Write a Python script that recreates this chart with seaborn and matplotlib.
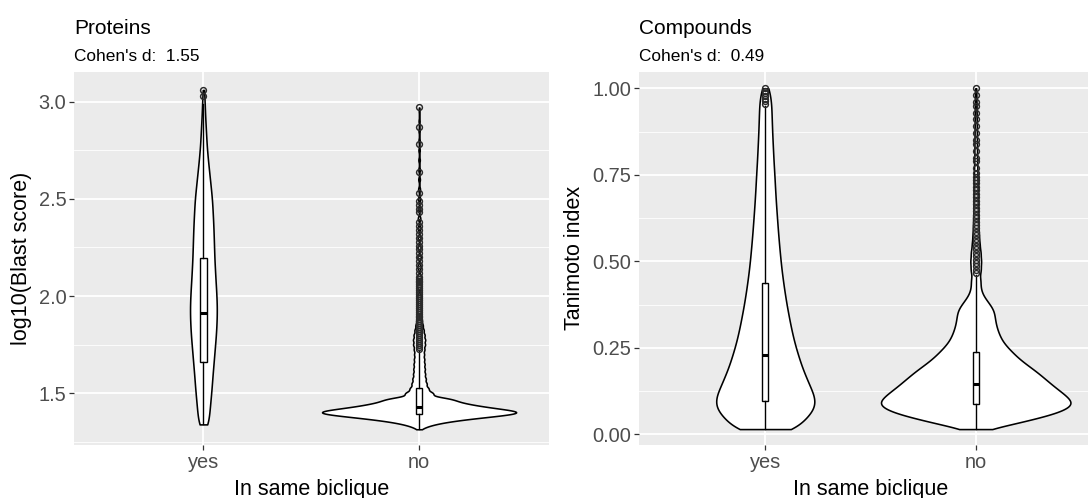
import numpy as np
import pandas as pd
import matplotlib
matplotlib.use("Agg")
import matplotlib.pyplot as plt
import seaborn as sns

# ---------------- data ----------------
categories = ["yes", "no"]

# Proteins panel: violin outline (half width, px) at sampled log10(Blast score) levels
prot_yes_levels = [1.34, 1.39, 1.44, 1.49, 1.54, 1.59, 1.64, 1.69, 1.74, 1.79, 1.84, 1.89,
                   1.94, 1.99, 2.04, 2.09, 2.14, 2.19, 2.24, 2.29, 2.34, 2.39, 2.44, 2.49,
                   2.54, 2.59, 2.64, 2.69, 2.74, 2.79, 2.84, 2.89, 2.94, 2.99, 3.04, 3.06]
prot_yes_density = [4.4, 5.8, 6.6, 7.5, 8.3, 9.0, 9.8, 10.6, 11.4, 12.2, 12.8, 13.2,
                    13.3, 13.0, 12.5, 11.9, 11.4, 10.9, 10.6, 10.3, 10.0, 9.6, 9.1, 8.6,
                    7.7, 6.7, 5.7, 4.7, 3.8, 3.1, 2.6, 2.1, 1.6, 1.3, 1.0, 0.9]

prot_no_levels = [1.315, 1.325, 1.335, 1.345, 1.355, 1.365, 1.375, 1.385, 1.395, 1.405,
                  1.415, 1.425, 1.435, 1.445, 1.455, 1.465, 1.475,
                  1.50, 1.525, 1.55, 1.575, 1.60, 1.625, 1.65, 1.675, 1.70, 1.725, 1.75,
                  1.775, 1.80, 1.825, 1.85, 1.875, 1.90, 1.925, 1.95, 1.975, 2.00,
                  2.05, 2.10, 2.15, 2.20, 2.25, 2.30, 2.35, 2.40, 2.45, 2.50, 2.55, 2.60,
                  2.65, 2.70, 2.75, 2.80, 2.85, 2.90, 2.95, 2.97]
prot_no_density = [1.5, 5, 10, 17, 27, 40, 56, 73, 90, 97,
                   80, 66, 54, 44, 36, 29, 22,
                   12, 8, 6.5, 5.8, 5.2, 5, 4.8, 4.5, 4.3, 4.6, 5.2,
                   5.3, 4.8, 4, 3.2, 2.5, 1.9, 1.6, 1.4, 1.3, 1.2,
                   1.1, 1.0, 0.9, 0.8, 0.75, 0.7, 0.65, 0.6, 0.55, 0.5, 0.45, 0.4,
                   0.38, 0.35, 0.32, 0.3, 0.28, 0.25, 0.22, 0.2]

# Compounds panel: violin outline (half width, px) at sampled Tanimoto levels
comp_yes_levels = [0.015, 0.04, 0.065, 0.09, 0.115, 0.14, 0.165, 0.19, 0.215, 0.24,
                   0.265, 0.29, 0.315, 0.34, 0.365, 0.39, 0.415, 0.44, 0.465, 0.49,
                   0.515, 0.54, 0.565, 0.59, 0.615, 0.64, 0.665, 0.69, 0.715, 0.74,
                   0.765, 0.79, 0.815, 0.84, 0.865, 0.89, 0.915, 0.94, 0.965, 0.99, 1.0]
comp_yes_density = [31, 37, 46, 49, 47, 43, 39.5, 36, 33.2, 30.6,
                    28.2, 26.2, 24.4, 22.8, 21.2, 19.8, 18.5, 17.3, 16.2, 15.2,
                    14.4, 13.6, 12.9, 12.2, 11.6, 11, 10.4, 9.9, 9.4, 9,
                    8.5, 8, 7.6, 7.2, 6.8, 6.5, 6.2, 6, 5.6, 5, 4]

comp_no_levels = [0.015, 0.03, 0.045, 0.06, 0.075, 0.09, 0.105, 0.12, 0.135, 0.15,
                  0.165, 0.18, 0.195, 0.21, 0.225, 0.24, 0.255, 0.27, 0.285, 0.30,
                  0.315, 0.33, 0.345, 0.36, 0.375, 0.39, 0.405, 0.42, 0.435, 0.45,
                  0.475, 0.50, 0.525, 0.55, 0.575, 0.60, 0.625, 0.65, 0.675, 0.70,
                  0.725, 0.75, 0.775, 0.80, 0.825, 0.85, 0.875, 0.90, 0.925, 0.95,
                  0.975, 1.0]
comp_no_density = [12, 37, 58, 78, 91, 96, 91, 85, 78, 72,
                   66, 60, 53, 46, 40, 35, 30, 26, 23.5, 21.5,
                   20, 19, 18.5, 17.5, 14, 10, 6.5, 5, 4.3, 4.3,
                   5, 5.3, 4.8, 3.8, 3.2, 2.8, 2.5, 2.3, 2.15, 2.0,
                   1.85, 1.7, 1.55, 1.4, 1.3, 1.2, 1.1, 1.0, 0.9, 0.8,
                   0.65, 0.5]

# Boxplot statistics (yes, no)
prot_q1 = [1.663, 1.393]
prot_med = [1.911, 1.428]
prot_q3 = [2.194, 1.526]
prot_lo = [1.34, 1.315]
prot_hi = [2.99, 1.725]
comp_q1 = [0.097, 0.087]
comp_med = [0.228, 0.145]
comp_q3 = [0.438, 0.237]
comp_lo = [0.015, 0.015]
comp_hi = [0.95, 0.46]

# Outliers
prot_yes_out = [3.03, 3.06]
prot_no_out = [1.73, 1.74, 1.75, 1.76, 1.77, 1.78, 1.79, 1.80, 1.81, 1.82, 1.83, 1.84,
               1.85, 1.86, 1.87, 1.88, 1.89, 1.90, 1.91, 1.92, 1.93, 1.94, 1.95, 1.96,
               1.97, 1.98, 1.99, 2.00, 2.01, 2.02, 2.03, 2.04, 2.05, 2.06, 2.07, 2.08,
               2.09, 2.10, 2.12, 2.14, 2.16, 2.18, 2.20, 2.22, 2.24, 2.26, 2.28, 2.30,
               2.32, 2.34, 2.36, 2.38, 2.43, 2.45, 2.47, 2.49, 2.53, 2.64, 2.78, 2.87, 2.97]
comp_yes_out = [0.955, 0.962, 0.97, 0.978, 0.985, 0.993, 1.0]
comp_no_out = [0.465, 0.475, 0.485, 0.495, 0.505, 0.515, 0.525, 0.535, 0.545, 0.555,
               0.565, 0.575, 0.585, 0.595, 0.605, 0.615, 0.625, 0.635, 0.645, 0.655,
               0.665, 0.675, 0.685, 0.695, 0.705, 0.715, 0.725, 0.735, 0.745, 0.755,
               0.77, 0.79, 0.80, 0.82, 0.84, 0.85, 0.87, 0.89, 0.91, 0.93, 0.95, 0.96,
               0.98, 1.0]

titles = ["Proteins", "Compounds"]
subtitles = ["Cohen's d:  1.55", "Cohen's d:  0.49"]
ylabels = ["log10(Blast score)", "Tanimoto index"]
xlabel = "In same biclique"
prot_ticks = [1.5, 2.0, 2.5, 3.0]
prot_ticklabels = ["1.5", "2.0", "2.5", "3.0"]
comp_ticks = [0.0, 0.25, 0.5, 0.75, 1.0]
comp_ticklabels = ["0.00", "0.25", "0.50", "0.75", "1.00"]

# ---------------- style ----------------
plt.rcParams['font.family'] = ['Liberation Sans', 'DejaVu Sans']
W, H = 1088, 498
PANEL_BG = "#EBEBEB"
TICK_COL = "#333333"
TICKLAB_COL = "#4D4D4D"

fig = plt.figure(figsize=(W / 100, H / 100), dpi=100)
ax_bottom = 1 - 445 / H
ax_height = (445 - 71.7) / H
ax1 = fig.add_axes([74 / W, ax_bottom, 474.5 / W, ax_height])
ax2 = fig.add_axes([639 / W, ax_bottom, 463 / W, ax_height])


def make_sample(levels, density, scale=3000):
    lv = np.asarray(levels, float)
    dens = np.asarray(density, float)
    spacing = np.gradient(lv)
    counts = np.maximum(1, np.round(dens * spacing * scale)).astype(int)
    return np.repeat(lv, counts)


def violin(ax, cat, levels, density, width, bw):
    vals = make_sample(levels, density)
    df = pd.DataFrame({"cat": cat, "val": vals})
    factor = bw / vals.std(ddof=1)
    sns.violinplot(data=df, x="cat", y="val", order=categories, ax=ax,
                   inner=None, cut=0, density_norm="width", width=width,
                   bw_method=factor, bw_adjust=1, gridsize=800,
                   color="white", saturation=1, linecolor="black", linewidth=1.15)


def boxes(ax, q1, med, q3, lo, hi, outs):
    for i in range(2):
        st = dict(q1=q1[i], med=med[i], q3=q3[i], whislo=lo[i], whishi=hi[i],
                  fliers=np.asarray(outs[i]))
        ax.bxp([st], positions=[i], widths=0.03, showcaps=False, patch_artist=True,
               manage_ticks=False, zorder=3,
               boxprops=dict(facecolor="white", edgecolor="black", linewidth=1.0),
               whiskerprops=dict(color="black", linewidth=1.0),
               medianprops=dict(color="black", linewidth=2.2),
               flierprops=dict(marker="o", markersize=4.2, markerfacecolor="none",
                               markeredgecolor="#2a2a2a", markeredgewidth=1.05))


# Proteins
violin(ax1, "yes", prot_yes_levels, prot_yes_density, 0.124, 0.035)
violin(ax1, "no", prot_no_levels, prot_no_density, 0.9, 0.011)
boxes(ax1, prot_q1, prot_med, prot_q3, prot_lo, prot_hi, [prot_yes_out, prot_no_out])

# Compounds
violin(ax2, "yes", comp_yes_levels, comp_yes_density, 0.466, 0.021)
violin(ax2, "no", comp_no_levels, comp_no_density, 0.9, 0.013)
boxes(ax2, comp_q1, comp_med, comp_q3, comp_lo, comp_hi, [comp_yes_out, comp_no_out])

limits = [(1.234, 3.154), (-0.031, 1.048)]
ticks = [prot_ticks, comp_ticks]
ticklabels = [prot_ticklabels, comp_ticklabels]
minors = [[1.25, 1.75, 2.25, 2.75], [0.125, 0.375, 0.625, 0.875]]

for ax, lim, tk, tl, mn in zip([ax1, ax2], limits, ticks, ticklabels, minors):
    ax.set_facecolor(PANEL_BG)
    ax.set_xlim(-0.6, 1.6)
    ax.set_ylim(*lim)
    ax.set_xticks([0, 1])
    ax.set_xticklabels(categories)
    ax.set_yticks(tk)
    ax.set_yticklabels(tl)
    ax.set_yticks(mn, minor=True)
    ax.set_axisbelow(True)
    ax.grid(True, which="major", axis="both", color="white", linewidth=1.3)
    ax.grid(True, which="minor", axis="y", color="white", linewidth=0.6)
    for s in ax.spines.values():
        s.set_visible(False)
    ax.tick_params(axis="both", which="major", length=3.3, width=0.9, color=TICK_COL,
                   labelcolor=TICKLAB_COL, labelsize=14.4, pad=2.2)
    ax.tick_params(axis="y", which="minor", length=0)
    ax.set_xlabel("")
    ax.set_ylabel("")

# texts
for left, t, s in zip([74, 639], titles, subtitles):
    fig.text(left / W, 1 - 33.5 / H, t, fontsize=15, va="baseline", ha="left")
    fig.text(left / W, 1 - 61 / H, s, fontsize=12.4, va="baseline", ha="left")

fig.text((74 + 474.5 / 2) / W, 1 - 495 / H, xlabel, fontsize=15.5, va="baseline", ha="center")
fig.text((639 + 463 / 2) / W, 1 - 495 / H, xlabel, fontsize=15.5, va="baseline", ha="center")
center_y = 1 - (445 + 71.7) / 2 / H
fig.text(21.7 / W, center_y, ylabels[0], fontsize=15.5, rotation=90, va="center", ha="center")
fig.text(575 / W, center_y, ylabels[1], fontsize=15.5, rotation=90, va="center", ha="center")

fig.savefig("out.png", dpi=100)
